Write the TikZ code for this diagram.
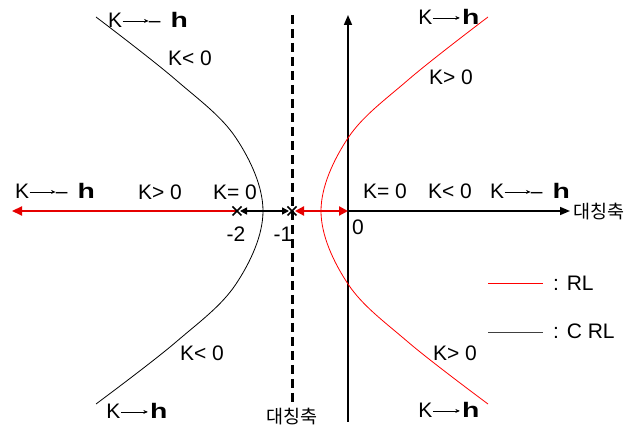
\documentclass[tikz,border=0pt]{standalone}
\usepackage{fontspec}
\setmainfont{Liberation Sans}
\newfontfamily\krfont{Noto Sans CJK KR}
\usetikzlibrary{arrows.meta}
\newcommand\kto[1]{\tikz[baseline=-0.6ex]\draw[line width=0.7pt,-{Stealth[length=4.5pt,width=4pt]}](0pt,0pt)--(#1,0pt);}
\newcommand\hh{\scalebox{1.35}[1.0]{\textbf{\fontsize{21}{22}\selectfont h}}}
\definecolor{rlred}{RGB}{230,0,0}
\begin{document}
\begin{tikzpicture}[x=1pt,y=-1pt,
  lab/.style={font=\fontsize{21}{22}\selectfont, inner sep=0pt},
  krlab/.style={font=\krfont\fontsize{18.5}{20}\selectfont, inner sep=0pt},
  axis/.style={line width=1.5pt,-{Triangle[length=10pt,width=8pt]}},
  redaxis/.style={rlred,line width=2.2pt},
  symline/.style={line width=3pt,dash pattern=on 9pt off 5pt},
  redcurve/.style={red,line width=0.8pt},
  blkcurve/.style={black,line width=0.8pt},
  xmark/.style={line width=1.5pt}]
\useasboundingbox (0,0) rectangle (633,430);
% coordinates
\coordinate (m2) at (237,211);
\coordinate (m1) at (292,211);
\coordinate (o) at (348,211);
\coordinate (xl) at (12,211);
\coordinate (xr) at (570,211);
\coordinate (yb) at (348,422);
\coordinate (yt) at (348,15);
\coordinate (dt) at (292,15);
\coordinate (db) at (292,404);
% symmetry (dashed) axis
\draw[symline] (dt) -- (db);
% vertical axis
\draw[axis] (yb) -- (yt);
% horizontal axis
\draw[axis] (o) -- (xr);
\draw[line width=1.5pt,{Triangle[length=7pt,width=7pt]}-{Triangle[length=7pt,width=7pt]}] ([xshift=3pt]m2) -- ([xshift=-3pt]m1);
\draw[redaxis,-{Triangle[length=10pt,width=9pt]}] (m2) -- (xl);
\draw[redaxis,{Triangle[length=9pt,width=9pt]}-{Triangle[length=9pt,width=9pt]}] ([xshift=3pt]m1) -- (o);
% pole marks
\foreach \p in {m2,m1}{
  \draw[xmark] ([shift={(-4.5pt,-4.5pt)}]\p) -- ([shift={(4.5pt,4.5pt)}]\p);
  \draw[xmark] ([shift={(-4.5pt,4.5pt)}]\p) -- ([shift={(4.5pt,-4.5pt)}]\p);
}
% curves
\draw[redcurve] plot[smooth,tension=0.6] coordinates {(488,17) (408,80) (348,138) (321,211) (348,284) (408,342) (488,404)};
\draw[blkcurve] plot[smooth,tension=0.6] coordinates {(96,17) (176,80) (236,138) (263,211) (236,284) (176,342) (96,404)};
% labels
\node[lab] (t1) at (148,20) {K\kto{26pt}–\hspace{10pt}\hh};
\node[lab] (t2) at (190,58) {K< 0};
\node[lab] (t3) at (449,17) {K\kto{27pt}\hspace{2pt}\hh};
\node[lab] (t4) at (451,77) {K> 0};
\node[lab] (a1) at (55,191) {K\kto{26pt}–\hspace{10pt}\hh};
\node[lab] (a2) at (160,192) {K> 0};
\node[lab] (a3) at (235,192) {K= 0};
\node[lab] (a4) at (385,191) {K= 0};
\node[lab] (a5) at (450,191) {K< 0};
\node[lab] (a6) at (530,191) {K\kto{26pt}–\hspace{10pt}\hh};
\node[krlab,anchor=west] (s1) at (573,212) {대칭축};
\node[lab] (n0) at (358,227) {0};
\node[lab] (n2) at (236,234) {-2};
\node[lab] (n1) at (283,234) {-1};
\node[lab] (b1) at (202,353) {K< 0};
\node[lab] (b2) at (137,411) {K\kto{27pt}\hspace{2pt}\hh};
\node[krlab] (s2) at (292,417) {대칭축};
\node[lab] (b3) at (455,353) {K> 0};
\node[lab] (b4) at (449,410) {K\kto{27pt}\hspace{2pt}\hh};
% legend
\coordinate (l1a) at (488,283);
\coordinate (l1b) at (543,283);
\coordinate (l2a) at (488,332);
\coordinate (l2b) at (543,332);
\draw[red,line width=0.8pt] (l1a) -- (l1b);
\draw[darkgray,line width=0.8pt] (l2a) -- (l2b);
\node[lab,anchor=west] (g1) at (553,283) {: RL};
\node[lab,anchor=west] (g2) at (553,331) {: C RL};
\end{tikzpicture}
\end{document}
